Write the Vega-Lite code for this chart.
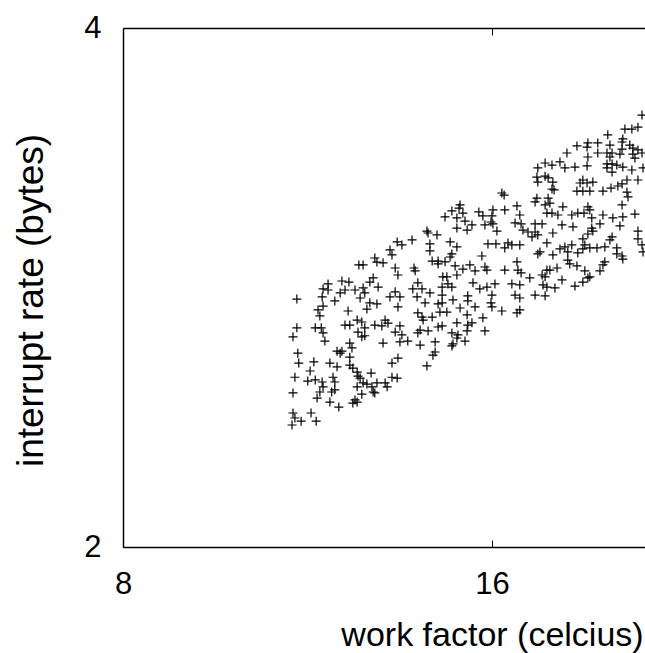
{
"$schema": "https://vega.github.io/schema/vega-lite/v6.json",
"width": 522, "height": 519,
"autosize": "none",
"padding": {"left": 123, "top": 28, "right": 0, "bottom": 106},
"background": "white",
"config": {"view": {"stroke": null}, "font": "Liberation Sans"},
"data": {"values": [
{"x":13.39,"y":3.006},{"x":13.51,"y":2.994},{"x":13.21,"y":2.974},{"x":13.26,"y":2.954},{"x":12.84,"y":2.942},{"x":13.04,"y":2.923},{"x":12.46,"y":2.915},{"x":12.56,"y":2.915},{"x":12.89,"y":2.926},{"x":13.34,"y":2.903},{"x":13.41,"y":2.876},{"x":12.80,"y":2.865},{"x":12.72,"y":2.849},{"x":12.07,"y":2.853},{"x":12.23,"y":2.849},{"x":11.76,"y":2.842},{"x":12.92,"y":2.830},{"x":11.65,"y":2.823},{"x":11.76,"y":2.819},{"x":12.14,"y":2.819},{"x":12.37,"y":2.819},{"x":12.56,"y":2.827},{"x":12.60,"y":2.808},{"x":12.03,"y":2.808},{"x":13.34,"y":2.812},{"x":13.21,"y":2.793},{"x":13.46,"y":2.793},{"x":11.63,"y":2.793},{"x":12.49,"y":2.789},{"x":11.91,"y":2.778},{"x":11.09,"y":2.785},{"x":12.72,"y":2.771},{"x":12.89,"y":2.767},{"x":11.65,"y":2.759},{"x":13.41,"y":2.756},{"x":12.65,"y":2.748},{"x":11.54,"y":2.745},{"x":12.21,"y":2.741},{"x":11.58,"y":2.723},{"x":12.42,"y":2.708},{"x":12.53,"y":2.701},{"x":13.09,"y":2.708},{"x":13.16,"y":2.697},{"x":12.14,"y":2.690},{"x":12.25,"y":2.690},{"x":12.84,"y":2.690},{"x":13.01,"y":2.687},{"x":13.46,"y":2.687},{"x":11.09,"y":2.680},{"x":11.48,"y":2.680},{"x":11.61,"y":2.680},{"x":12.60,"y":2.680},
{"x":11.01,"y":2.648},{"x":11.65,"y":2.662},{"x":12.44,"y":2.665},{"x":12.53,"y":2.648},{"x":12.60,"y":2.652},{"x":11.69,"y":2.633},{"x":13.34,"y":2.665},{"x":13.51,"y":2.655},{"x":13.46,"y":2.630},{"x":13.04,"y":2.626},{"x":12.25,"y":2.626},{"x":12.30,"y":2.609},{"x":11.96,"y":2.598},{"x":12.07,"y":2.598},{"x":12.03,"y":2.591},{"x":11.11,"y":2.591},{"x":12.25,"y":2.577},{"x":13.41,"y":2.574},{"x":13.26,"y":2.557},{"x":11.13,"y":2.557},{"x":11.45,"y":2.561},{"x":11.80,"y":2.557},{"x":12.25,"y":2.550},{"x":12.32,"y":2.540},{"x":11.96,"y":2.544},{"x":11.37,"y":2.530},{"x":12.42,"y":2.526},{"x":12.75,"y":2.523},{"x":12.44,"y":2.513},{"x":12.49,"y":2.506},{"x":11.05,"y":2.509},{"x":11.87,"y":2.509},{"x":13.26,"y":2.509},{"x":13.39,"y":2.506},{"x":11.48,"y":2.500},{"x":11.32,"y":2.496},{"x":11.63,"y":2.493},{"x":11.91,"y":2.493},{"x":12.56,"y":2.490},{"x":12.65,"y":2.486},{"x":12.89,"y":2.490},{"x":13.09,"y":2.490},{"x":12.42,"y":2.477},{"x":11.65,"y":2.477},{"x":12.77,"y":2.477},{"x":13.14,"y":2.477},{"x":11.91,"y":2.467},{"x":11.84,"y":2.460},{"x":12.80,"y":2.460},{"x":12.84,"y":2.457},{"x":11.01,"y":2.457},{"x":11.58,"y":2.460},{"x":12.53,"y":2.453},{"x":11.52,"y":2.440},{"x":12.37,"y":2.434},{"x":12.42,"y":2.427},{"x":11.80,"y":2.427},{"x":12.32,"y":2.424},{"x":12.00,"y":2.411},{"x":11.01,"y":2.392},{"x":11.39,"y":2.392},{"x":11.05,"y":2.376},{"x":11.18,"y":2.366},{"x":11.50,"y":2.366},{"x":10.99,"y":2.354},
{"x":16.30,"y":3.209},{"x":16.37,"y":3.200},{"x":15.07,"y":3.158},{"x":15.04,"y":3.145},{"x":16.77,"y":3.154},{"x":15.61,"y":3.129},{"x":16.03,"y":3.137},{"x":16.39,"y":3.137},{"x":14.84,"y":3.133},{"x":15.15,"y":3.124},{"x":15.73,"y":3.112},{"x":16.00,"y":3.112},{"x":16.86,"y":3.116},{"x":14.65,"y":3.108},{"x":14.98,"y":3.104},{"x":15.21,"y":3.091},{"x":15.97,"y":3.087},{"x":15.41,"y":3.075},{"x":15.79,"y":3.075},{"x":16.03,"y":3.079},{"x":16.71,"y":3.083},{"x":16.90,"y":3.079},{"x":14.98,"y":3.062},{"x":15.27,"y":3.054},{"x":16.15,"y":3.050},{"x":14.16,"y":3.050},{"x":14.19,"y":3.042},{"x":16.96,"y":3.054},{"x":14.43,"y":3.034},{"x":13.77,"y":3.014},{"x":14.79,"y":3.006},{"x":14.24,"y":2.998},{"x":14.98,"y":2.986},{"x":15.88,"y":2.998},{"x":16.12,"y":2.998},{"x":16.49,"y":3.002},{"x":16.61,"y":2.994},{"x":16.39,"y":2.982},{"x":16.86,"y":2.994},{"x":14.24,"y":2.970},{"x":14.84,"y":2.958},{"x":14.79,"y":2.946},{"x":15.70,"y":2.950},{"x":14.30,"y":2.930},{"x":14.46,"y":2.930},{"x":14.65,"y":2.927},{"x":14.46,"y":2.919},{"x":15.35,"y":2.915},{"x":14.93,"y":2.911},{"x":16.77,"y":2.927},{"x":13.82,"y":2.903},{"x":15.15,"y":2.899},{"x":15.50,"y":2.892},{"x":15.79,"y":2.907},{"x":15.85,"y":2.895},{"x":16.39,"y":2.895},{"x":16.80,"y":2.895},{"x":16.90,"y":2.884},{"x":13.85,"y":2.892},{"x":14.59,"y":2.869},{"x":14.70,"y":2.869},{"x":14.98,"y":2.876},
{"x":13.92,"y":2.846},{"x":13.79,"y":2.823},{"x":14.03,"y":2.823},{"x":14.57,"y":2.830},{"x":14.73,"y":2.842},{"x":14.84,"y":2.830},{"x":15.44,"y":2.846},{"x":15.85,"y":2.830},{"x":16.09,"y":2.842},{"x":16.61,"y":2.842},{"x":16.86,"y":2.838},{"x":14.24,"y":2.808},{"x":14.57,"y":2.800},{"x":15.64,"y":2.823},{"x":15.29,"y":2.797},{"x":15.29,"y":2.778},{"x":16.00,"y":2.800},{"x":16.71,"y":2.800},{"x":16.86,"y":2.789},{"x":13.90,"y":2.793},{"x":14.87,"y":2.782},{"x":14.11,"y":2.771},{"x":14.46,"y":2.767},{"x":14.57,"y":2.771},{"x":15.97,"y":2.771},{"x":16.00,"y":2.756},{"x":15.50,"y":2.756},{"x":15.07,"y":2.752},{"x":16.30,"y":2.741},{"x":16.86,"y":2.745},{"x":16.77,"y":2.734},{"x":14.51,"y":2.737},{"x":14.70,"y":2.737},{"x":13.92,"y":2.734},{"x":14.03,"y":2.719},{"x":14.06,"y":2.708},{"x":14.30,"y":2.719},{"x":15.27,"y":2.727},{"x":15.73,"y":2.716},{"x":14.98,"y":2.698},{"x":15.41,"y":2.698},{"x":15.29,"y":2.690},{"x":14.57,"y":2.687},{"x":14.46,"y":2.683},{"x":14.19,"y":2.669},{"x":13.98,"y":2.672},{"x":13.92,"y":2.662},{"x":15.27,"y":2.669},{"x":15.79,"y":2.669},{"x":14.84,"y":2.662},{"x":15.01,"y":2.655},{"x":14.98,"y":2.644},{"x":15.21,"y":2.633},{"x":13.66,"y":2.633},{"x":14.38,"y":2.630},{"x":13.98,"y":2.619},{"x":14.87,"y":2.623},{"x":14.84,"y":2.616},{"x":14.38,"y":2.595},{"x":14.32,"y":2.584},{"x":14.16,"y":2.547},
{"x":21.21,"y":3.561},{"x":20.54,"y":3.495},{"x":20.81,"y":3.495},{"x":21.05,"y":3.504},{"x":19.89,"y":3.468},{"x":20.46,"y":3.449},{"x":20.43,"y":3.435},{"x":19.16,"y":3.431},{"x":19.52,"y":3.431},{"x":18.77,"y":3.417},{"x":19.13,"y":3.412},{"x":19.97,"y":3.421},{"x":20.73,"y":3.421},{"x":20.85,"y":3.407},{"x":21.05,"y":3.399},{"x":20.43,"y":3.403},{"x":18.42,"y":3.385},{"x":19.52,"y":3.385},{"x":19.86,"y":3.385},{"x":20.05,"y":3.385},{"x":20.35,"y":3.380},{"x":20.85,"y":3.380},{"x":21.21,"y":3.385},{"x":19.97,"y":3.367},{"x":19.16,"y":3.367},{"x":20.93,"y":3.362},{"x":18.18,"y":3.345},{"x":17.68,"y":3.340},{"x":17.91,"y":3.331},{"x":17.44,"y":3.318},{"x":18.35,"y":3.318},{"x":18.70,"y":3.322},{"x":19.13,"y":3.327},{"x":19.86,"y":3.336},{"x":20.05,"y":3.336},{"x":20.23,"y":3.331},{"x":20.46,"y":3.322},{"x":19.86,"y":3.318},{"x":20.81,"y":3.309},{"x":21.25,"y":3.318},{"x":20.05,"y":3.300},{"x":17.41,"y":3.278},{"x":17.68,"y":3.282},{"x":17.78,"y":3.274},{"x":17.44,"y":3.256},{"x":17.94,"y":3.256},{"x":18.98,"y":3.265},{"x":20.62,"y":3.265},{"x":21.05,"y":3.265},{"x":18.88,"y":3.252},{"x":19.13,"y":3.252},{"x":19.34,"y":3.256},{"x":20.43,"y":3.248},{"x":20.27,"y":3.239},{"x":17.91,"y":3.226},{"x":17.98,"y":3.222},{"x":18.77,"y":3.217},{"x":18.98,"y":3.217},{"x":19.23,"y":3.217},{"x":19.71,"y":3.217},{"x":20.01,"y":3.230},{"x":20.62,"y":3.213},{"x":20.66,"y":3.192},{"x":17.41,"y":3.187},{"x":17.78,"y":3.187},
{"x":17.35,"y":3.171},{"x":17.68,"y":3.158},{"x":17.84,"y":3.166},{"x":18.28,"y":3.150},{"x":19.16,"y":3.150},{"x":19.23,"y":3.137},{"x":20.43,"y":3.158},{"x":17.74,"y":3.124},{"x":17.91,"y":3.124},{"x":18.11,"y":3.116},{"x":18.59,"y":3.116},{"x":18.80,"y":3.124},{"x":19.02,"y":3.124},{"x":19.71,"y":3.116},{"x":20.08,"y":3.104},{"x":20.46,"y":3.108},{"x":20.93,"y":3.120},{"x":19.30,"y":3.104},{"x":17.35,"y":3.079},{"x":17.58,"y":3.079},{"x":18.25,"y":3.075},{"x":18.63,"y":3.067},{"x":19.60,"y":3.079},{"x":20.35,"y":3.071},{"x":19.30,"y":3.062},{"x":19.34,"y":3.050},{"x":17.12,"y":3.046},{"x":17.35,"y":3.046},{"x":17.94,"y":3.042},{"x":19.16,"y":3.038},{"x":21.05,"y":3.050},{"x":17.25,"y":3.026},{"x":17.44,"y":3.034},{"x":20.05,"y":3.026},{"x":19.97,"y":3.014},{"x":18.98,"y":3.018},{"x":21.05,"y":3.018},{"x":17.74,"y":3.002},{"x":19.05,"y":2.994},{"x":21.21,"y":2.994},{"x":19.78,"y":2.986},{"x":18.59,"y":2.994},{"x":18.35,"y":2.986},{"x":18.18,"y":2.978},{"x":18.98,"y":2.978},{"x":19.23,"y":2.982},{"x":19.49,"y":2.982},{"x":20.23,"y":2.982},{"x":18.45,"y":2.966},{"x":18.80,"y":2.962},{"x":17.51,"y":2.966},{"x":17.44,"y":2.958},{"x":17.94,"y":2.954},{"x":20.23,"y":2.958},{"x":20.43,"y":2.950},{"x":20.46,"y":2.938},{"x":21.25,"y":2.966},{"x":18.45,"y":2.934},{"x":19.78,"y":2.927},{"x":18.52,"y":2.919},{"x":18.77,"y":2.911},{"x":19.71,"y":2.915},{"x":18.08,"y":2.903},{"x":17.74,"y":2.895},{"x":17.84,"y":2.895},{"x":19.05,"y":2.892},{"x":19.60,"y":2.892},{"x":17.58,"y":2.876},{"x":17.18,"y":2.865},{"x":17.68,"y":2.869},{"x":19.23,"y":2.869},{"x":19.16,"y":2.865},{"x":18.25,"y":2.857},{"x":18.98,"y":2.849},{"x":17.61,"y":2.838},{"x":17.74,"y":2.830},{"x":18.70,"y":2.834},{"x":18.01,"y":2.827},{"x":17.35,"y":2.800},{"x":17.68,"y":2.797}
]},
"layer": [
{
"mark": {"type": "point", "shape": "M-1,0H1M0,-1V1", "size": 81, "filled": false, "color": "black", "strokeWidth": 1.2, "opacity": 1, "clip": false},
"encoding": {
"x": {"field": "x", "type": "quantitative",
"scale": {"type": "log", "base": 2, "domain": [8, 21.33], "nice": false, "zero": false},
"axis": {"orient": "bottom", "values": [8, 16], "format": "d", "grid": false, "domainColor": "black", "domainWidth": 1.5, "tickColor": "black", "tickWidth": 1, "tickSize": -7, "labelPadding": 53, "labelBaseline": "alphabetic", "labelFontSize": 31, "labelColor": "black", "labelFont": "Liberation Sans", "labelFlush": false,
"title": "work factor (celcius)", "titleFontSize": 34, "titleFont": "Liberation Sans", "titleFontWeight": "normal", "titleColor": "black", "titleX": 369, "titleY": 98, "titleAlign": "center", "titleBaseline": "alphabetic", "titleAnchor": null}},
"y": {"field": "y", "type": "quantitative",
"scale": {"type": "log", "base": 2, "domain": [2, 4], "nice": false, "zero": false},
"axis": {"orient": "left", "values": [2, 4], "format": "d", "grid": false, "domainColor": "black", "domainWidth": 1.5, "ticks": false, "labelPadding": 22, "labelFontSize": 31, "labelColor": "black", "labelFont": "Liberation Sans", "labelFlush": false, "labelBaseline": "middle",
"title": "interrupt rate (bytes)", "titleFontSize": 37, "titleFont": "Liberation Sans", "titleFontWeight": "normal", "titleColor": "black", "titleX": -92, "titleY": 272, "titleAngle": -90, "titleAlign": "center", "titleBaseline": "middle"}}
}
},
{
"mark": {"type": "point", "opacity": 0},
"encoding": {
"x": {"field": "x", "type": "quantitative",
"axis": {"orient": "top", "values": [16], "labels": false, "title": null, "grid": false, "domainColor": "black", "domainWidth": 1.5, "tickColor": "black", "tickWidth": 1, "tickSize": -7}},
"y": {"field": "y", "type": "quantitative", "axis": null}
}
}
],
"resolve": {"axis": {"x": "independent", "y": "independent"}}
}
